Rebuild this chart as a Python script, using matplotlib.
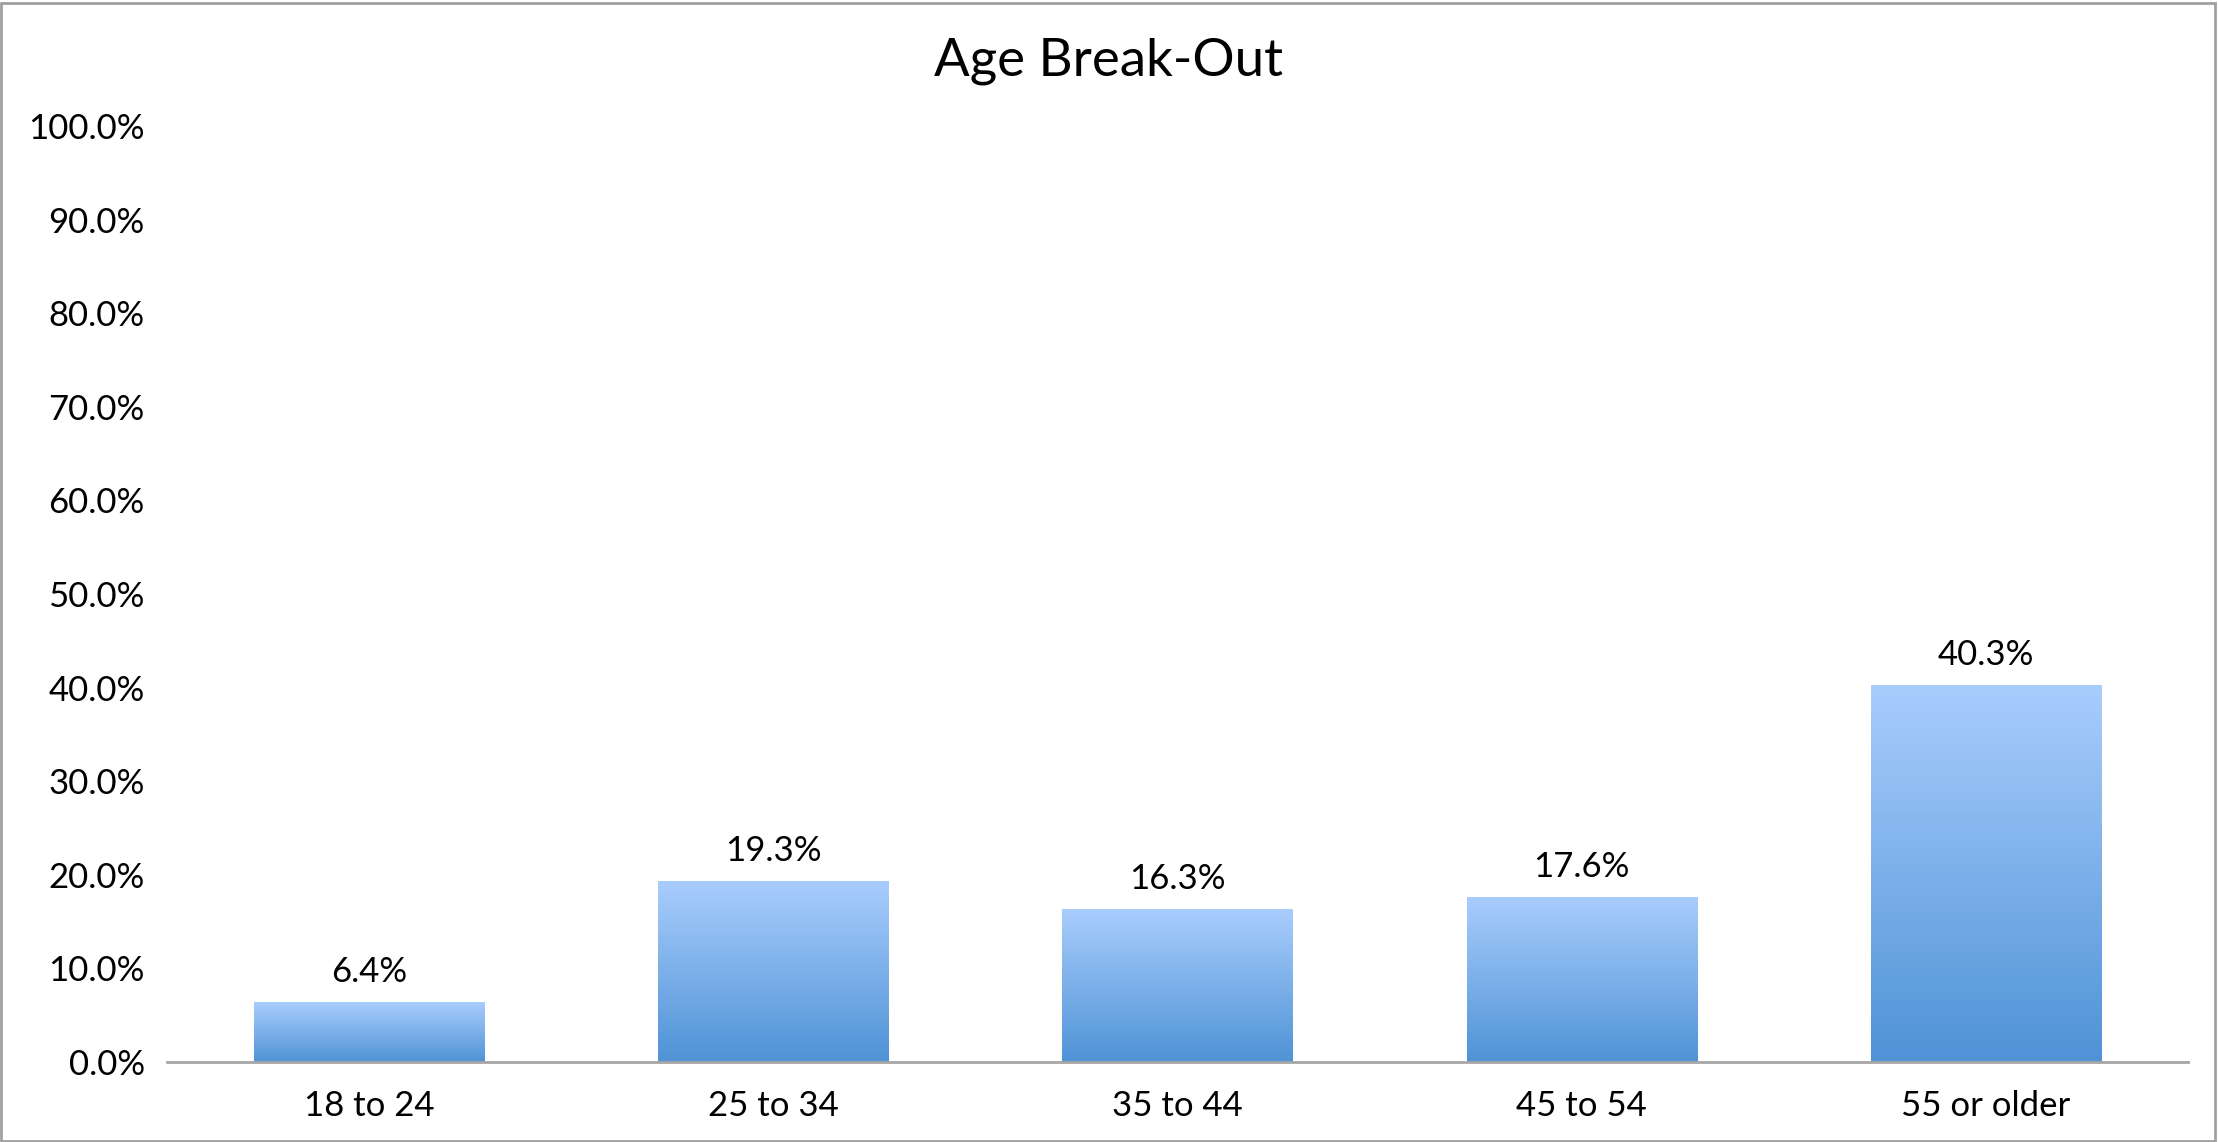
import numpy as np
import matplotlib.pyplot as plt
from matplotlib.colors import LinearSegmentedColormap
from matplotlib.patches import Rectangle

# Age break-out chart, bars with a vertical blue gradient
categories = ["18 to 24", "25 to 34", "35 to 44", "45 to 54", "55 or older"]
shares = [6.4, 19.3, 16.3, 17.6, 40.3]
yticks = [0, 10, 20, 30, 40, 50, 60, 70, 80, 90, 100]

plt.rcParams['font.family'] = ['Lato', 'DejaVu Sans']

fig = plt.figure(figsize=(22.18, 11.42), dpi=100)
ax = fig.add_axes([0.0753, 0.0701, 0.9112, 0.8196])

bars = ax.bar(range(len(categories)), shares, width=0.57, color='none',
              edgecolor='none', zorder=2)

# gradient from light blue (top) to darker blue (bottom)
cmap = LinearSegmentedColormap.from_list("bar", ["#4F93D6", "#A9CDFD"])
grad = np.linspace(0, 1, 256).reshape(-1, 1)
for bar in bars:
    x0 = bar.get_x()
    w = bar.get_width()
    h = bar.get_height()
    im = ax.imshow(grad, cmap=cmap, origin='lower', aspect='auto',
                   extent=[x0, x0 + w, 0, h], zorder=2)
    im.set_clip_path(bar)
    ax.text(x0 + w / 2, h + 1.5, f"{h:.1f}%", ha='center', va='bottom',
            fontsize=25, color='black')

ax.set_xlim(-0.5, len(categories) - 0.5)
ax.set_ylim(0, 100)
ax.set_xticks(range(len(categories)))
ax.set_xticklabels(categories, fontsize=25)
ax.set_yticks(yticks)
ax.set_yticklabels([f"{v:.1f}%" for v in yticks], fontsize=25)
ax.tick_params(axis='both', length=0)
ax.tick_params(axis='x', pad=20)
ax.tick_params(axis='y', pad=16)

for side in ['top', 'right', 'left']:
    ax.spines[side].set_visible(False)
ax.spines['bottom'].set_color('#A6A6A6')
ax.spines['bottom'].set_linewidth(2)
ax.spines['bottom'].set_zorder(3)

fig.suptitle("Age Break-Out", fontsize=38, y=0.946, va='center')

# thin gray frame around the whole chart
fig.patches.append(Rectangle((0.0005, 0.001), 0.998, 0.996,
                             transform=fig.transFigure, fill=False,
                             edgecolor='#A0A0A0', linewidth=2))

plt.savefig("out.png", dpi=100)
plt.close()
